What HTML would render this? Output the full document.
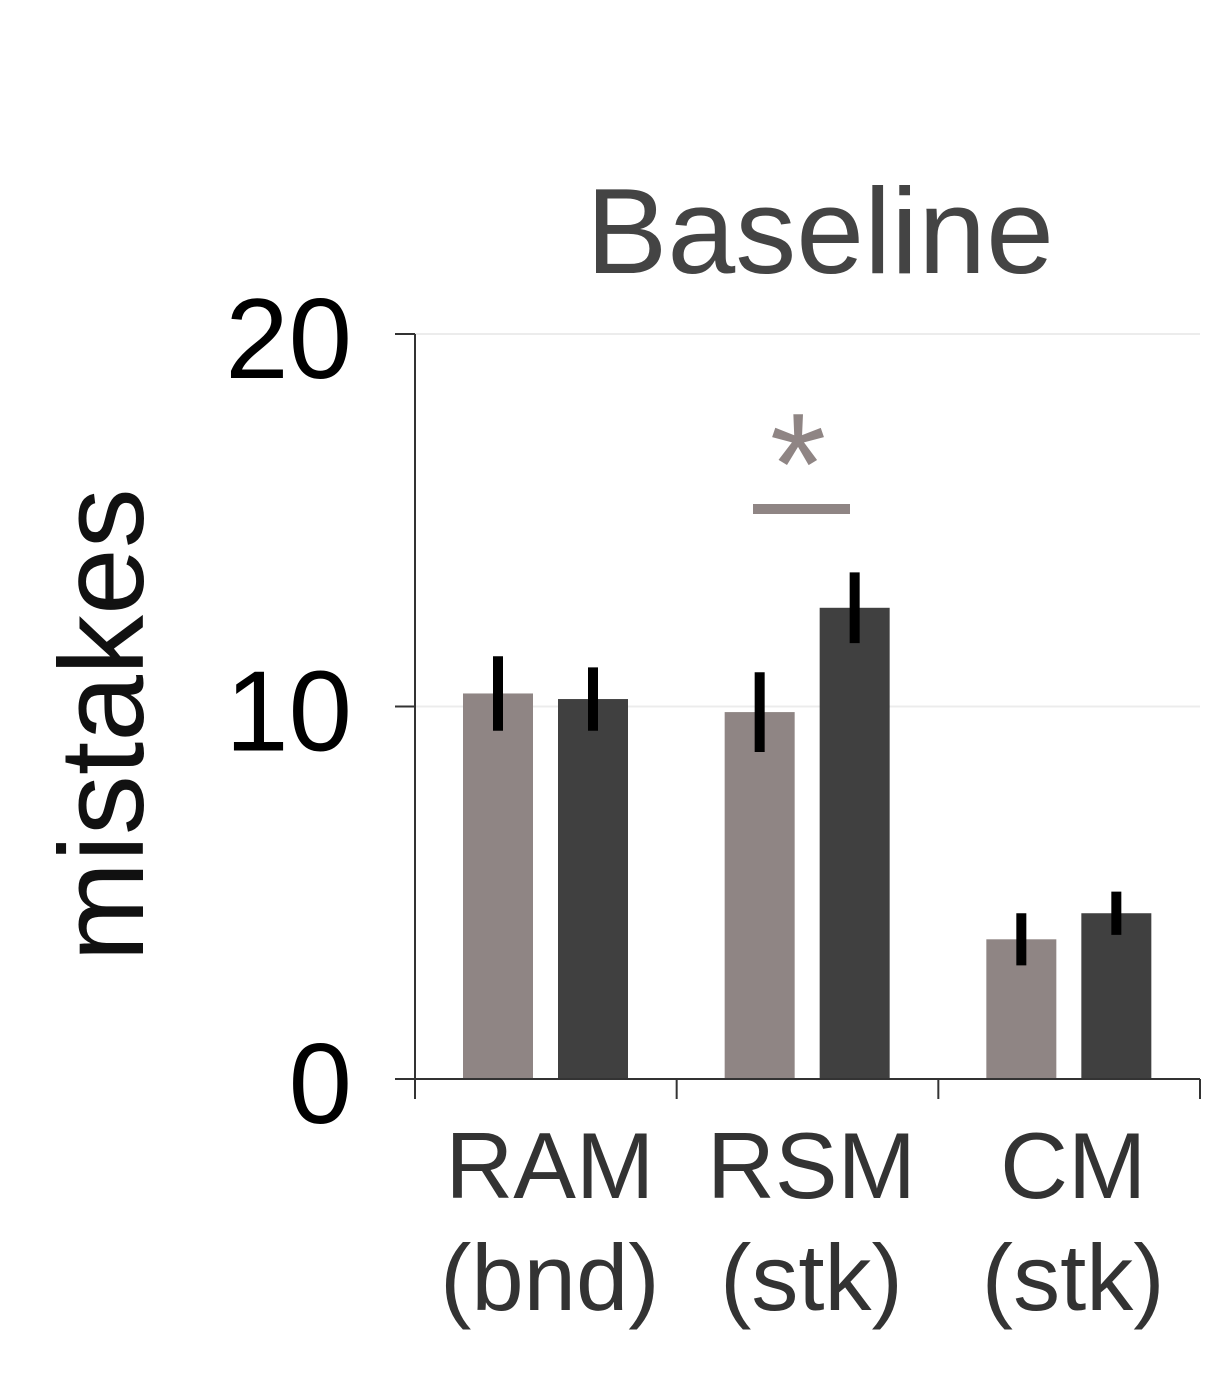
<!DOCTYPE html>
<html><head><meta charset="utf-8"><style>
html,body{margin:0;padding:0;background:#fff;}
svg{display:block;font-family:"Liberation Sans",Arial,sans-serif;}
</style></head><body>
<svg id="chart" width="1223" height="1377" viewBox="0 0 1223 1377" xmlns="http://www.w3.org/2000/svg">
<text x="820" y="273" font-size="122" fill="#444" text-anchor="middle">Baseline</text>
<text transform="translate(143,725) rotate(-90)" font-size="120" fill="#111" text-anchor="middle">mistakes</text>
<g id="grid"></g><g id="bars"></g><g id="axes"></g>
<g>
<rect x="753" y="504" width="97" height="10" fill="#8f8584"/>
<text x="798" y="514" font-size="145" fill="#8f8584" text-anchor="middle">*</text>
</g>
</svg>
<script>
const categories=["RAM","RSM","CM"];
const subLabels=["(bnd)","(stk)","(stk)"];
const seriesLight=[10.35,9.85,3.75];
const seriesDark=[10.2,12.65,4.45];
const errLight=[1.0,1.07,0.7];
const errDark=[0.85,0.95,0.58];
const yTicks=[0,10,20];
const NS="http://www.w3.org/2000/svg";
const x0=415,x1=1200,yBase=1079,yTop=334,yMax=20;
const y=v=>yBase-(yBase-yTop)*v/yMax;
const groupW=(x1-x0)/categories.length;
function el(tag,attrs,parent){const e=document.createElementNS(NS,tag);for(const k in attrs)e.setAttribute(k,attrs[k]);parent.appendChild(e);return e;}
const grid=document.getElementById('grid'),bars=document.getElementById('bars'),axes=document.getElementById('axes');
yTicks.forEach(t=>{
  if(t>0){const g=el('line',{x1:x0,x2:x1,y1:y(t),y2:y(t),stroke:'#ececec','stroke-width':2},grid);
  }
  const tk=el('line',{x1:395,x2:x0,y1:y(t),y2:y(t),stroke:'#333','stroke-width':2},axes);
  
  const tx=el('text',{x:352,y:y(t)+44,'font-size':114,fill:'#000','text-anchor':'end'},axes);
  tx.textContent=t;
  
  
});
categories.forEach((c,i)=>{
  const gx=x0+groupW*i;
  [[seriesLight,errLight,'#8f8584',48,'light'],[seriesDark,errDark,'#404040',143,'dark']].forEach(([s,e,col,off,nm])=>{
    const bx=gx+off;
    const r=el('rect',{x:bx,y:y(s[i]),width:70,height:yBase-y(s[i]),fill:col},bars);
    
    
    const l=el('line',{x1:bx+35,x2:bx+35,y1:y(s[i]+e[i]),y2:y(s[i]-e[i]),stroke:'#000','stroke-width':10},bars);
    
    
  });
  const cx=gx+groupW/2+4;
  const t1=el('text',{x:cx,y:1198,'font-size':94,fill:'#333','text-anchor':'middle'},axes);
  t1.textContent=c;
  
  
  const t2=el('text',{x:cx,y:1310,'font-size':94,fill:'#333','text-anchor':'middle'},axes);
  t2.textContent=subLabels[i];
  
  
});
for(let i=0;i<=categories.length;i++){
  const xx=x0+groupW*i;
  const t=el('line',{x1:xx,x2:xx,y1:yBase,y2:1099,stroke:'#333','stroke-width':2},axes);
  
  
}
const ya=el('line',{x1:x0,x2:x0,y1:yTop,y2:yBase,stroke:'#333','stroke-width':2},axes);


const xa=el('line',{x1:395,x2:x1,y1:yBase,y2:yBase,stroke:'#333','stroke-width':2},axes);


</script>
</body></html>
